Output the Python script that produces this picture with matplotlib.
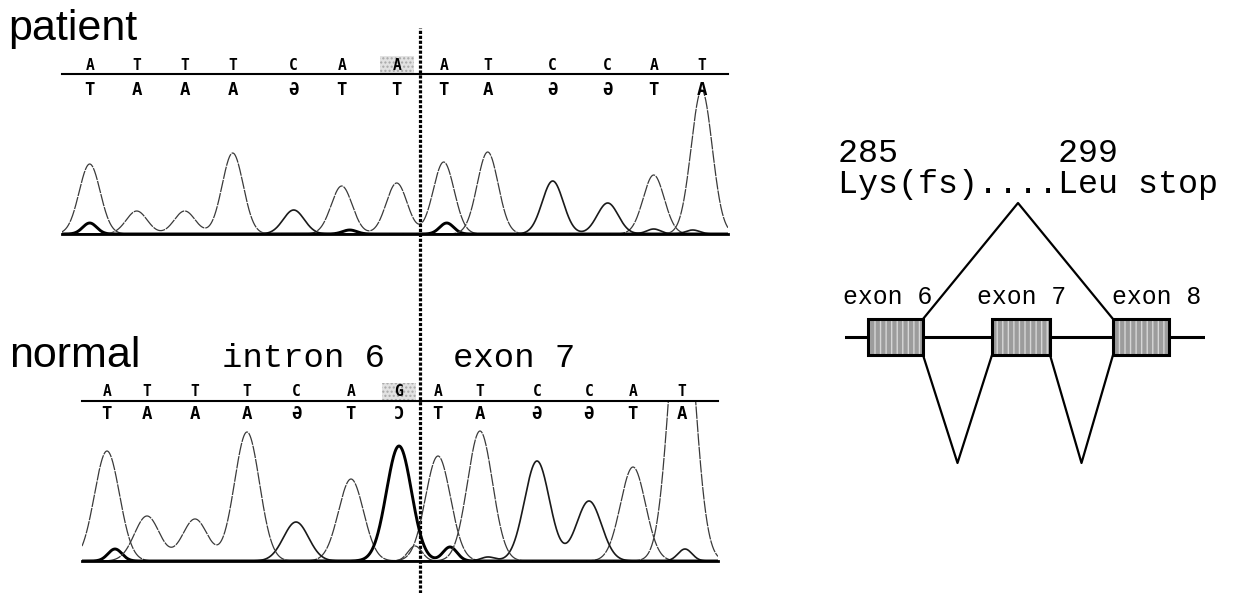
import numpy as np
import matplotlib
matplotlib.use("Agg")
import matplotlib.pyplot as plt
from matplotlib.patches import Rectangle

W, H, DPI = 1238, 593, 100

# ---------------------------------------------------------------- sequencing data
patient_bases = list("ATTTCAAATCCAT")
patient_scan = [28, 75, 123, 171, 232, 280, 335, 382, 426, 491, 546, 592, 640]
patient_signal = [70, 23, 23, 81, 24, 48, 51, 72, 82, 53, 31, 59, 144]
patient_minor_base = ["G", "G", "G", "C", "C"]
patient_minor_scan = [28, 288, 385, 592, 631]
patient_minor_signal = [11, 4, 11, 5, 4]

normal_bases = list("ATTTCAGATCCAT")
normal_scan = [25, 65, 113, 165, 214, 269, 317, 356, 398, 455, 507, 551, 600]
normal_signal = [110, 45, 42, 129, 39, 82, 115, 105, 130, 100, 60, 94, 290]
normal_minor_base = ["G", "G", "T", "C", "C"]
normal_minor_scan = [33, 368, 333, 406, 603]
normal_minor_signal = [12, 14, 15, 4, 12]

splice_site_index = 6          # last intron base (AG -> AA in the patient)

# reverse-strand calls, printed mirrored under the forward calls
mirrored_complement = {"A": "T", "T": "A", "C": "\u018F", "G": "\u0186"}

# ---------------------------------------------------------------- gene diagram data
exon_names = ["exon 6", "exon 7", "exon 8"]
exon_start = [23, 147, 268]
exon_end = [78, 205, 324]
skip_junction_height = 134
intron_junction_depth = 126
codon_text = "285        299"
protein_text = "Lys(fs)....Leu stop"

# ---------------------------------------------------------------- figure
fig = plt.figure(figsize=(W / DPI, H / DPI), dpi=DPI)
fig.patch.set_facecolor("white")


def px_axes(x0, y0, x1, y1):
    return fig.add_axes([x0 / W, 1 - y1 / H, (x1 - x0) / W, (y1 - y0) / H])


overlay = px_axes(0, 0, W, H)
overlay.set_xlim(0, W)
overlay.set_ylim(H, 0)
overlay.axis("off")

trace_style = {
    "A": dict(color="#3a3a3a", lw=0.9, linestyle=(0, (10, 0.8))),
    "T": dict(color="#3a3a3a", lw=0.9, linestyle=(0, (10, 0.8))),
    "C": dict(color="#1a1a1a", lw=1.2),
    "G": dict(color="#000000", lw=2.1),
}


def draw_trace(ax, bases, scan, signal, mbase, mscan, msignal, width, minor_width,
               xmax, top_y, bottom_y, box_y):
    x = np.linspace(0, xmax, 3000)
    for nuc in "ACGT":
        y = np.zeros_like(x)
        n = 0
        for b, s, h in zip(bases, scan, signal):
            if b == nuc:
                y += h * np.exp(-((x - s) ** 2) / (2 * width ** 2))
                n += 1
        for b, s, h in zip(mbase, mscan, msignal):
            if b == nuc:
                y += h * np.exp(-((x - s) ** 2) / (2 * minor_width ** 2))
                n += 1
        if n:
            ax.plot(x, y, solid_joinstyle="round", **trace_style[nuc])

    ax.set_xlim(0, xmax)
    ax.set_ylim(0, 160)
    ax.set_facecolor("none")
    ax.set_xticks([])
    ax.set_yticks([])
    for side in ("left", "right"):
        ax.spines[side].set_visible(False)
    ax.spines["top"].set_linewidth(1.5)
    ax.spines["bottom"].set_linewidth(2.0)

    # highlighted splice-site base
    hs = scan[splice_site_index]
    ax.add_patch(Rectangle((hs - 17, box_y), 34, 17, facecolor="#e2e2e2",
                           edgecolor="#a8a8a8", hatch="....", lw=0,
                           clip_on=False, zorder=0))

    for b, s in zip(bases, scan):
        ax.text(s, top_y, b, ha="center", va="center", fontsize=10.5,
                fontweight="bold", family=["DejaVu Sans Mono", "DejaVu Sans"],
                clip_on=False)
        ax.text(s, bottom_y, mirrored_complement[b], ha="center", va="center",
                fontsize=12.5, fontweight="bold",
                family=["DejaVu Sans Mono", "DejaVu Sans"], clip_on=False)


plt.rcParams["hatch.linewidth"] = 1.0

ax_p = px_axes(61.7, 74, 728, 234)
draw_trace(ax_p, patient_bases, patient_scan, patient_signal,
           patient_minor_base, patient_minor_scan, patient_minor_signal,
           10.5, 7, 666.3, 169, 144, 161)

ax_n = px_axes(82, 401, 718, 561)
draw_trace(ax_n, normal_bases, normal_scan, normal_signal,
           normal_minor_base, normal_minor_scan, normal_minor_signal,
           12.5, 7, 636, 170, 147, 161)

# intron/exon boundary, between the splice-site base and the next one
boundary = 0.5 * (patient_scan[splice_site_index] + patient_scan[splice_site_index + 1])
ax_p.axvline(boundary, ymin=(234 - H) / 160, ymax=(234 - 28) / 160, color="black",
             lw=2.3, linestyle=(0, (1.0, 0.55)), clip_on=False, zorder=5)

# panel titles and region labels
overlay.text(8, 40, "patient", fontsize=31, family="Liberation Sans", va="baseline")
overlay.text(9, 367, "normal", fontsize=31, family="Liberation Sans", va="baseline")
overlay.text(222, 367, "intron 6", fontsize=24.5, family="Liberation Mono", va="baseline")
overlay.text(453, 367, "exon 7", fontsize=24.5, family="Liberation Mono", va="baseline")

# ---------------------------------------------------------------- gene diagram
ax_d = px_axes(845, 180, 1205, 480)
ax_d.set_xlim(0, 360)
ax_d.set_ylim(-143, 157)
ax_d.axis("off")
ax_d.set_facecolor("none")

box_half = 18
ax_d.axhline(0, color="black", lw=2.2, zorder=1)
for s, e in zip(exon_start, exon_end):
    ax_d.add_patch(Rectangle((s, -box_half), e - s, 2 * box_half, facecolor="#9c9c9c",
                             edgecolor="#d6d6d6", hatch="|||", lw=0, zorder=2))
    ax_d.add_patch(Rectangle((s, -box_half), e - s, 2 * box_half, fill=False,
                             edgecolor="black", lw=2.2, zorder=3))

# exon 7 skipping
mid = 0.5 * (exon_end[0] + exon_start[2])
ax_d.plot([exon_end[0], mid, exon_start[2]],
          [box_half, skip_junction_height, box_half], color="black", lw=1.6)
# normal splicing
for i in range(2):
    m = 0.5 * (exon_end[i] + exon_start[i + 1])
    ax_d.plot([exon_end[i], m, exon_start[i + 1]],
              [-box_half, -intron_junction_depth, -box_half], color="black", lw=1.6)

overlay.text(838, 162, codon_text, fontsize=24, family="Liberation Mono", va="baseline")
overlay.text(838, 193, protein_text, fontsize=24, family="Liberation Mono", va="baseline")
for name, xl in zip(exon_names, [843, 977, 1112]):
    overlay.text(xl, 304, name, fontsize=17.8, family="Liberation Mono", va="baseline")

fig.savefig("out.png", dpi=DPI, facecolor="white")
